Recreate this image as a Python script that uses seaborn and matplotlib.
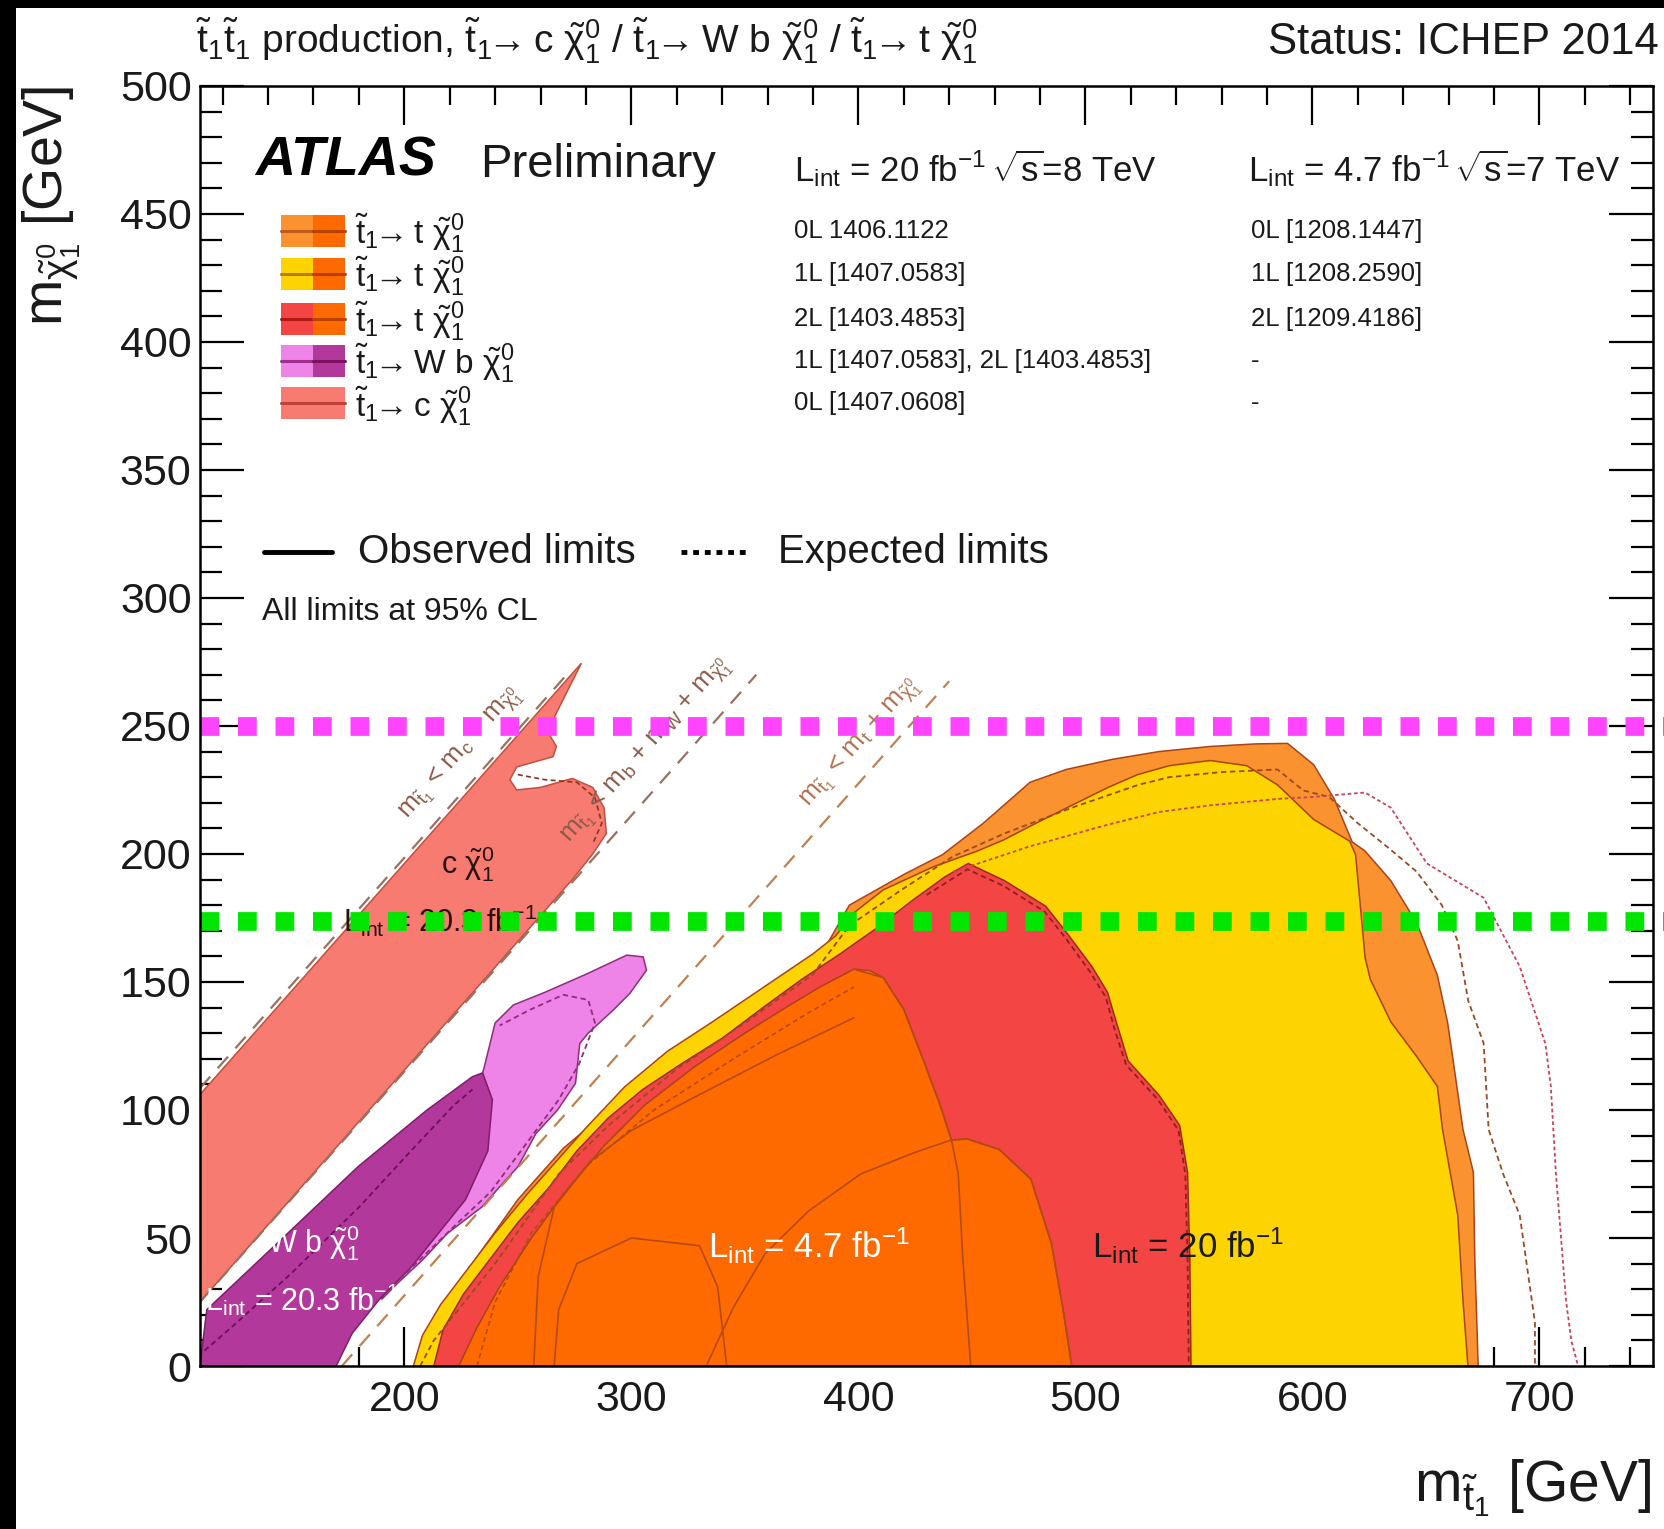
import numpy as np
import matplotlib
matplotlib.use("Agg")
import matplotlib.pyplot as plt
from matplotlib.patches import Rectangle
import seaborn as sns

# ---------------- data (GeV) ----------------
X_RANGE = (110, 750)
Y_RANGE = (0, 500)
x_major = [200, 300, 400, 500, 600, 700]
y_major = [0, 50, 100, 150, 200, 250, 300, 350, 400, 450, 500]

# stop -> c neutralino (0L, 20.3 fb-1)
charm_x = [110, 278, 263, 267, 265.5, 249.5, 246.5, 249.5, 260, 274, 283, 288, 289, 283, 274, 110]
charm_y = [106, 274.5, 248, 242, 238, 234, 229, 225, 226, 229.5, 226, 218, 208, 200, 190, 25]
charm_exp_x = [250, 262, 276, 284, 287, 283]
charm_exp_y = [231, 229, 228, 222, 212, 204]

# stop -> W b neutralino (1L light, 2L dark)
wb1l_x = [190, 197, 208, 219, 234.3, 242, 250, 258, 267.5, 275.4, 277.3, 281, 292, 299.3, 306.7,
          305.2, 298, 280, 262, 248, 240, 235, 225, 200]
wb1l_y = [26, 32.3, 41.4, 51.8, 62.2, 70, 77.8, 90.8, 100, 110.4, 126, 130, 139, 145.5, 154.6,
          159.8, 160.5, 153, 146, 141, 134, 116, 90, 50]
wb1l_exp_x = [198, 212, 226, 238, 248, 258, 268, 277, 284, 281, 270, 255, 242]
wb1l_exp_y = [34, 46, 58, 68, 80, 92, 104, 118, 134, 143, 145, 139, 133]
wb2l_x = [110, 113, 140.5, 179.8, 210, 230, 234.5, 238.8, 236.8, 227, 215.2, 203.4, 189, 177, 170, 110]
wb2l_y = [0, 22, 45, 78, 100, 113, 114.5, 104, 84, 65, 52, 39, 26, 12.7, 0, 0]
wb2l_exp_x = [112, 125, 150, 180, 205, 222, 230]
wb2l_exp_y = [6, 16, 36, 62, 86, 102, 108]

# stop -> t neutralino, 8 TeV: 0L, 1L, 2L
t0l_x = [209, 215, 230, 250, 270, 290, 320, 345, 360, 380, 396, 420, 437, 455, 475.6, 491.5, 512, 532.4,
         555, 575, 589, 600.5, 609.6, 617.5, 623, 634.5, 646, 655, 659.5, 662, 666.3, 670.9, 671.5, 673]
t0l_y = [0, 15, 40, 65, 85, 100, 118, 133, 142, 155, 180, 192, 199.7, 212, 228, 233, 237, 240,
         242, 243, 243.2, 234.9, 221.5, 204.7, 201.3, 189.6, 172.9, 152.7, 134.3, 119.2, 92.4, 75.6, 42, 0]
t1l_x = [204, 208, 216, 228, 240, 254, 268, 280, 297, 316, 335, 350, 365, 380, 390, 398, 411, 433, 452,
         464, 476, 494, 510, 523, 537, 555, 571, 584.6, 600.5, 616.4, 619, 623.2, 625.5, 634.6, 645.9,
         655, 657.3, 664, 666.3, 668.5]
t1l_y = [0, 12, 24, 38, 52, 67, 81, 93, 109, 123, 134, 143, 152, 161, 168, 177, 186, 195, 201,
         205.5, 211, 219, 226, 231, 234.5, 236.5, 234.5, 227, 213.5, 205, 199.7, 159.4, 151, 134.3, 120.9,
         109.2, 92.4, 58.9, 25.4, 0]
t2l_x = [213, 217, 226, 238, 250, 264, 276, 290, 305, 322, 340, 358, 375, 392, 408, 424, 438, 448.4,
         464.3, 482.5, 491.5, 502.9, 509.7, 514.2, 518.8, 532.4, 541.5, 545, 546, 546.5]
t2l_y = [0, 14, 28, 42, 56, 70, 84, 97, 108, 118, 128, 140, 151, 161, 171, 182, 191, 196.3,
         189.6, 179.6, 169.5, 156, 146, 132.6, 119.2, 105.8, 94, 75.6, 42, 0]
# stop -> t neutralino, 7 TeV (union of 0L/1L/2L)
t7_x = [224, 232, 242, 256, 270, 288, 306, 328, 350, 368, 383, 398, 405, 411, 420, 429, 436, 441,
        448, 462, 476, 485, 490, 494]
t7_y = [0, 15, 31, 50, 67, 86, 102, 117, 130, 140, 148, 155, 154.5, 151.7, 139.3, 118.6, 102, 88.3,
        88.7, 84.6, 73, 48, 23, 0]

# 7 TeV individual observed contours
c7a_x = [398, 411, 420, 429, 436, 441, 444, 446, 449.5]
c7a_y = [155, 151.7, 139.3, 118.6, 102, 88.3, 75, 42, 0]
c7b_x = [333, 345, 359, 378, 401, 424.5, 441, 448, 462, 476, 485, 490, 494]
c7b_y = [0, 23, 44, 60.5, 75, 83.3, 88.3, 88.7, 84.6, 73, 48, 23, 0]
c7c_x = [266, 268, 276, 300, 330, 338, 342]
c7c_y = [0, 22, 40, 50, 47, 31, 0]
c7d_x = [257, 259, 266, 282, 300, 330, 365, 398]
c7d_y = [0, 35, 62, 80, 92, 106, 122, 136]
c7_exp_x = [232, 240, 256, 280, 310, 345, 378, 398]
c7_exp_y = [0, 25, 52, 78, 100, 120, 138, 148]

# 8 TeV expected contours
t1l_exp_x = [207, 213, 222, 240, 268, 290, 320, 350, 380, 396, 419, 441.6, 464.3, 493.8, 523.3, 537,
             560, 584.6, 596, 607.3, 620, 634, 646, 657, 664, 668.6, 675.4, 677.6, 684, 691.3, 698, 698]
t1l_exp_y = [0, 10, 20, 40, 75, 94, 116, 134, 153, 172, 186, 199, 208, 218, 227, 230,
             232, 233, 224.8, 222.3, 212, 202, 193, 180, 166, 142.7, 126, 92.4, 75, 58.9, 17, 0]
t0l_exp_x = [441.6, 475.6, 509.7, 532.4, 555, 584.6, 600.5, 623.2, 634.5, 650.4, 675.4, 691.3, 702.6,
             705, 707.2, 711.7, 714, 717]
t0l_exp_y = [193, 203, 211.4, 216.4, 219, 221.5, 222.3, 224, 218.1, 196.3, 182.9, 156, 125.9,
             109.2, 75.6, 25.4, 10, 0]
t2l_exp_x = [430, 448, 464, 482, 491, 502, 509, 513, 518, 532, 541, 544, 545, 545.5]
t2l_exp_y = [184, 194, 187.5, 177.5, 167.5, 154, 144, 131, 117.5, 104, 92, 75, 42, 0]

# kinematic boundaries: m_stop = m_X + m_chi
m_c, m_bW, m_top = 1.5, 85.0, 172.5
kin_c_x = [110, 272]
kin_W_x = [110, 355]
kin_t_x = [172.5, 440]

# reference markers
mark_high = 250
mark_low = 174

# legend / annotation text
ARROW = r"\!\!\rightarrow\!\!"
legend_labels = [r"$\tilde{\rm t}_1" + ARROW + r"$ t $\tilde{\chi}^0_1$",
                 r"$\tilde{\rm t}_1" + ARROW + r"$ t $\tilde{\chi}^0_1$",
                 r"$\tilde{\rm t}_1" + ARROW + r"$ t $\tilde{\chi}^0_1$",
                 r"$\tilde{\rm t}_1" + ARROW + r"$ W b $\tilde{\chi}^0_1$",
                 r"$\tilde{\rm t}_1" + ARROW + r"$ c $\tilde{\chi}^0_1$"]
refs_8tev = ["0L 1406.1122", "1L [1407.0583]", "2L [1403.4853]",
             "1L [1407.0583], 2L [1403.4853]", "0L [1407.0608]"]
refs_7tev = ["0L [1208.1447]", "1L [1208.2590]", "2L [1209.4186]", "-", "-"]

# ---------------- colours ----------------
C_SALMON = "#F77B70"
C_VIOLET = "#EE84E8"
C_PURPLE = "#B2389B"
C_LORANGE = "#F9922F"
C_YELLOW = "#FDD400"
C_RED = "#F44545"
C_ORANGE = "#FF6A00"
C_EDGE = "#A8441C"

# ---------------- style ----------------
sns.set_style("ticks")
plt.rcParams["font.family"] = ["Liberation Sans", "DejaVu Sans"]
plt.rcParams["mathtext.fontset"] = "custom"
plt.rcParams["mathtext.rm"] = "Liberation Sans"
plt.rcParams["mathtext.it"] = "Liberation Sans"
plt.rcParams["mathtext.bf"] = "Liberation Sans:bold"
plt.rcParams["mathtext.sf"] = "Liberation Sans"

fig = plt.figure(figsize=(16.65, 15.29), dpi=100)
fig.patch.set_facecolor("white")
ax = fig.add_axes([0.1201, 0.1066, 0.9928 - 0.1201, 0.9438 - 0.1066])
ax.set_facecolor("white")

# ---------------- filled regions ----------------
def region(xs, ys, color, edge=C_EDGE, lw=1.1):
    ax.fill(xs, ys, facecolor=color, edgecolor=edge, linewidth=lw, zorder=2)

region(charm_x, charm_y, C_SALMON, edge="#C0503E")
region(wb1l_x, wb1l_y, C_VIOLET, edge="#8E2E78")
region(wb2l_x, wb2l_y, C_PURPLE, edge="#7E1E68")
region(t0l_x, t0l_y, C_LORANGE)
region(t1l_x, t1l_y, C_YELLOW)
region(t2l_x, t2l_y, C_RED, edge="#9E2A1A")
region(t7_x, t7_y, C_ORANGE)

def curve(xs, ys, color, ls="-", lw=1.2, z=3):
    sns.lineplot(x=xs, y=ys, sort=False, estimator=None, ax=ax, color=color,
                 linestyle=ls, linewidth=lw, zorder=z, legend=False)

curve(c7a_x, c7a_y, "#B54A14")
curve(c7b_x, c7b_y, "#B54A14")
curve(c7c_x, c7c_y, "#B54A14")
curve(c7d_x, c7d_y, "#B54A14")
curve(c7_exp_x, c7_exp_y, "#B54A14", ls=(0, (3, 2)))
curve(t1l_exp_x, t1l_exp_y, "#9A4A22", ls=(0, (3, 2)), lw=1.3)
curve(t0l_exp_x, t0l_exp_y, "#C8445A", ls=(0, (2, 1.5)), lw=1.3)
curve(t2l_exp_x, t2l_exp_y, "#8E2020", ls=(0, (3, 2)), lw=1.3)
curve(charm_exp_x, charm_exp_y, "#8E3020", ls=(0, (3, 2)))
curve(wb1l_exp_x, wb1l_exp_y, "#8E2E78", ls=(0, (3, 2)), lw=1.3)
curve(wb2l_exp_x, wb2l_exp_y, "#6E1058", ls=(0, (3, 2)), lw=1.3)

# kinematic limits
kin_col = "#9A7060"
curve(kin_c_x, [v - m_c for v in kin_c_x], kin_col, ls=(0, (7, 5)), lw=1.6, z=4)
curve(kin_W_x, [v - m_bW for v in kin_W_x], kin_col, ls=(0, (7, 5)), lw=1.6, z=4)
curve(kin_t_x, [v - m_top for v in kin_t_x], "#C08050", ls=(0, (7, 5)), lw=1.6, z=4)

angle = np.degrees(np.arctan((ax.get_position().height * 15.29 / (Y_RANGE[1] - Y_RANGE[0])) /
                             (ax.get_position().width * 16.65 / (X_RANGE[1] - X_RANGE[0]))))
kin_fs = 19
ax.text(225, 239, r"m$_{\tilde{\rm t}_1}$ < m$_{\rm c}$ + m$_{\tilde{\chi}^0_1}$", rotation=angle,
        ha="center", va="center", rotation_mode="anchor", fontsize=kin_fs, color="#8A5A48", zorder=4)
ax.text(307, 240, r"m$_{\tilde{\rm t}_1}$ < m$_{\rm b}$ + m$_{\rm W}$ + m$_{\tilde{\chi}^0_1}$", rotation=angle,
        ha="center", va="center", rotation_mode="anchor", fontsize=kin_fs, color="#8A5A48", zorder=4)
ax.text(401, 243, r"m$_{\tilde{\rm t}_1}$ < m$_{\rm t}$ + m$_{\tilde{\chi}^0_1}$", rotation=angle,
        ha="center", va="center", rotation_mode="anchor", fontsize=kin_fs, color="#B07050", zorder=4)

# region labels
ax.text(228, 196, r"c $\tilde{\chi}^0_1$", ha="center", va="center", fontsize=22, color="#2A1010", zorder=5)
ax.text(216, 174, r"L$_{\rm int}$ = 20.3 fb$^{-1}$", ha="center", va="center", fontsize=22,
        color="#2A1010", zorder=5)
ax.text(160, 48, r"W b $\tilde{\chi}^0_1$", ha="center", va="center", fontsize=22, color="white", zorder=5)
ax.text(155, 26, r"L$_{\rm int}$ = 20.3 fb$^{-1}$", ha="center", va="center", fontsize=22,
        color="white", zorder=5)
ax.text(378, 47, r"L$_{\rm int}$ = 4.7 fb$^{-1}$", ha="center", va="center", fontsize=25,
        color="white", zorder=5)
ax.text(545, 47, r"L$_{\rm int}$ = 20 fb$^{-1}$", ha="center", va="center", fontsize=25,
        color="#1A1A1A", zorder=5)

# horizontal markers (extend past the frame to the figure edge)
ax.plot([X_RANGE[0], 755.5], [mark_high, mark_high], color="#FF44FF", lw=13.5,
        linestyle=(0, (1, 1)), dash_capstyle="butt", clip_on=False, zorder=10)
ax.plot([X_RANGE[0], 755.5], [mark_low, mark_low], color="#00E600", lw=13.5,
        linestyle=(0, (1, 1)), dash_capstyle="butt", clip_on=False, zorder=10)

# ---------------- axes ----------------
ax.set_xlim(*X_RANGE)
ax.set_ylim(*Y_RANGE)
ax.set_xticks(x_major)
ax.set_xticks(np.arange(120, 751, 20), minor=True)
ax.set_yticks(y_major)
ax.set_yticks(np.arange(0, 501, 10), minor=True)
ax.tick_params(axis="both", which="both", direction="in", top=True, right=True,
               labelsize=31, width=1.6, color="black", labelcolor="#1A1A1A")
ax.tick_params(axis="x", which="major", length=28, pad=10)
ax.tick_params(axis="x", which="minor", length=14)
ax.tick_params(axis="y", which="major", length=32, pad=6)
ax.tick_params(axis="y", which="minor", length=16)
for s in ax.spines.values():
    s.set_linewidth(1.8)
    s.set_color("black")
    s.set_zorder(11)
ax.set_xlabel("")
ax.set_ylabel("")

# ---------------- legend block (axes fraction) ----------------
tA = ax.transAxes
ax.text(0.038, 0.941, "ATLAS", transform=tA, fontsize=40, fontweight="bold", fontstyle="italic",
        ha="left", va="center", color="black", zorder=6)
ax.text(0.193, 0.938, "Preliminary", transform=tA, fontsize=34, ha="left", va="center",
        color="#1A1A1A", zorder=6)
ax.text(0.409, 0.936, r"L$_{\rm int}$ = 20 fb$^{-1}$$\,\sqrt{\rm s}$=8 TeV", transform=tA, fontsize=25,
        ha="left", va="center", color="#1A1A1A", zorder=6)
ax.text(0.721, 0.936, r"L$_{\rm int}$ = 4.7 fb$^{-1}$$\,\sqrt{\rm s}$=7 TeV", transform=tA, fontsize=25,
        ha="left", va="center", color="#1A1A1A", zorder=6)

row_y = [0.887, 0.853, 0.818, 0.785, 0.752]
row_left = [C_LORANGE, C_YELLOW, C_RED, C_VIOLET, C_SALMON]
row_right = [C_ORANGE, C_ORANGE, C_ORANGE, C_PURPLE, C_SALMON]
line_left = ["#C05A18", "#C07818", "#B01818", "#A02E8E", "#C0403A"]
line_right = ["#B84200", "#B84200", "#B84200", "#7E1060", "#C0403A"]
bx0, bxm, bx1, bh = 0.056, 0.078, 0.100, 0.025
for yy, cl, cr, ll, lr, lab, r8, r7 in zip(row_y, row_left, row_right, line_left, line_right,
                                           legend_labels, refs_8tev, refs_7tev):
    ax.add_patch(Rectangle((bx0, yy - bh / 2), bxm - bx0, bh, transform=tA, facecolor=cl,
                           edgecolor="none", zorder=6))
    ax.add_patch(Rectangle((bxm, yy - bh / 2), bx1 - bxm, bh, transform=tA, facecolor=cr,
                           edgecolor="none", zorder=6))
    ax.plot([bx0, bxm], [yy, yy], transform=tA, color=ll, lw=2.2, zorder=7)
    ax.plot([bxm, bx1], [yy, yy], transform=tA, color=lr, lw=2.2, zorder=7)
    ax.text(0.107, yy - 0.002, lab, transform=tA, fontsize=24, ha="left", va="center",
            color="#1A1A1A", zorder=7)
    ax.text(0.409, yy, r8, transform=tA, fontsize=18.5, ha="left", va="center", color="#1A1A1A", zorder=7)
    ax.text(0.723, yy, r7, transform=tA, fontsize=18.5, ha="left", va="center", color="#1A1A1A", zorder=7)

ax.plot([0.044, 0.091], [0.636, 0.636], transform=tA, color="black", lw=3.5, zorder=7)
ax.text(0.109, 0.636, "Observed limits", transform=tA, fontsize=29, ha="left", va="center",
        color="#1A1A1A", zorder=7)
ax.plot([0.331, 0.376], [0.636, 0.636], transform=tA, color="black", lw=3.5,
        linestyle=(0, (1.2, 1.2)), dash_capstyle="butt", zorder=7)
ax.text(0.398, 0.636, "Expected limits", transform=tA, fontsize=29, ha="left", va="center",
        color="#1A1A1A", zorder=7)
ax.text(0.043, 0.589, "All limits at 95% CL", transform=tA, fontsize=23, ha="left", va="center",
        color="#1A1A1A", zorder=7)

# ---------------- figure-level text ----------------
fig.text(0.1175, 0.965,
         r"$\tilde{\rm t}_1\tilde{\rm t}_1$ production, $\tilde{\rm t}_1" + ARROW + r"$ c $\tilde{\chi}^0_1$ / "
         r"$\tilde{\rm t}_1" + ARROW + r"$ W b $\tilde{\chi}^0_1$ / $\tilde{\rm t}_1" + ARROW +
         r"$ t $\tilde{\chi}^0_1$",
         fontsize=28, ha="left", va="baseline", color="#1A1A1A")
fig.text(0.9963, 0.965, "Status: ICHEP 2014", fontsize=31.5, ha="right", va="baseline", color="#1A1A1A")
fig.text(0.031, 0.944, r"m$_{\tilde{\chi}^0_1}$ [GeV]", rotation=90, fontsize=40, ha="center", va="top",
         color="#1A1A1A")
fig.text(0.9916, 0.018, r"m$_{\tilde{\rm t}_1}$ [GeV]", fontsize=41, ha="right", va="baseline",
         color="#1A1A1A")

# dark frame strips along the top and left edges of the image
fig.patches.append(Rectangle((0, 1 - 8 / 1529), 1, 8 / 1529, transform=fig.transFigure,
                             facecolor="black", edgecolor="none", zorder=20))
fig.patches.append(Rectangle((0, 0), 16 / 1665, 1, transform=fig.transFigure,
                             facecolor="black", edgecolor="none", zorder=20))

fig.savefig("out.png", dpi=100, facecolor="white")
